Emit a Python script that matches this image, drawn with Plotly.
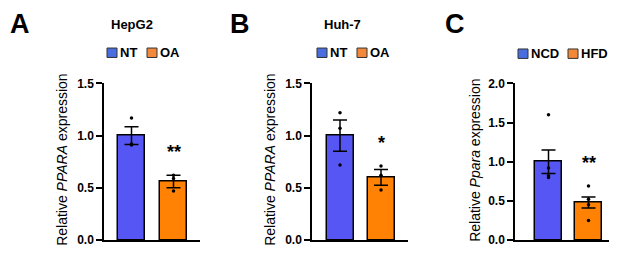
import plotly.graph_objects as go

# ---- data ----
panel_letters = ["A", "B", "C"]
panel_titles = ["HepG2", "Huh-7", ""]
groups = [["NT", "OA"], ["NT", "OA"], ["NCD", "HFD"]]
means = [[1.00, 0.56], [1.00, 0.60], [1.00, 0.48]]
sems = [[0.085, 0.06], [0.15, 0.075], [0.15, 0.07]]
points = [
    [[1.17, 0.92, 0.91], [0.62, 0.59, 0.47]],
    [[1.22, 1.07, 0.72], [0.71, 0.62, 0.48]],
    [[1.60, 0.92, 0.82, 0.80], [0.69, 0.52, 0.45, 0.25]],
]
stars = ["**", "*", "**"]
star_y = [0.84, 0.93, 0.99]
ytitles = ["Relative <i>PPARA</i> expression", "Relative <i>PPARA</i> expression",
           "Relative <i>Ppara</i> expression"]
ymax = [1.5, 1.5, 2.0]
tickvals = [[0, 0.5, 1.0, 1.5], [0, 0.5, 1.0, 1.5], [0, 0.5, 1.0, 1.5, 2.0]]
ticktext = [["0.0", "0.5", "1.0", "1.5"], ["0.0", "0.5", "1.0", "1.5"],
            ["0.0", "0.5", "1.0", "1.5", "2.0"]]

colors = ["#5656f5", "#ff8205"]
legend_colors = ["#4a6ee0", "#f4883a"]
FONT = "Liberation Sans, Arial, sans-serif"

# ---- geometry (screen pixels; page body has an 8px margin) ----
OFF = 8
W, H = 609, 249
def PX(p):
    return (p - OFF) / W
def PY(p):
    return 1 - (p - OFF) / H

axis_left = [104, 312, 515]
axis_right = [200, 408, 617]
bar_centers = [[131.5, 173.5], [340, 381], [548.5, 588.5]]
bar_w_px = 27
y_top_px, y_zero_px = 80.5, 246.5
title_x = [132, 342, None]
letter_x = [8, 228, 443]
ytitle_x = [62, 270, 475]
legend_sq = [[107, 147], [317, 357], [518, 568]]
legend_y = [48, 48, 49]

fig = go.Figure()
shapes, annotations = [], []
ydom = [PY(y_zero_px), PY(y_top_px)]

for i in range(3):
    xa = "x" if i == 0 else f"x{i+1}"
    ya = "y" if i == 0 else f"y{i+1}"
    c0, c1 = bar_centers[i]
    unit = c1 - c0
    xr = [-(c0 - axis_left[i]) / unit, 1 + (axis_right[i] - c1) / unit]
    for j in range(2):
        fig.add_trace(go.Bar(
            x=[j], y=[means[i][j]], width=bar_w_px / unit,
            marker=dict(color=colors[j], line=dict(color="black", width=1.5)),
            error_y=dict(type="data", array=[sems[i][j]], color="black",
                         thickness=1.5, width=7),
            xaxis=xa, yaxis=ya, showlegend=False))
        fig.add_trace(go.Scatter(
            x=[j] * len(points[i][j]), y=points[i][j], mode="markers",
            marker=dict(color="black", size=3.5), xaxis=xa, yaxis=ya,
            showlegend=False))
    annotations.append(dict(x=1, y=star_y[i], xref=xa, yref=ya, text=f"<b>{stars[i]}</b>",
                            showarrow=False, yanchor="middle",
                            font=dict(family=FONT, size=18, color="black")))
    axkey = "xaxis" if i == 0 else f"xaxis{i+1}"
    aykey = "yaxis" if i == 0 else f"yaxis{i+1}"
    fig.layout[axkey] = dict(domain=[PX(axis_left[i]), min(1.0, PX(axis_right[i]))], range=xr,
                             showline=True, linecolor="black", linewidth=1.5,
                             showticklabels=False, ticks="", showgrid=False,
                             zeroline=False, anchor=ya, fixedrange=True)
    fig.layout[aykey] = dict(domain=ydom, range=[0, ymax[i]], anchor=xa,
                             showline=True, linecolor="black", linewidth=1.5,
                             ticks="outside", ticklen=6, tickwidth=1.5, tickcolor="black",
                             tickvals=tickvals[i],
                             ticktext=[f"<b>{t}</b>" for t in ticktext[i]],
                             tickfont=dict(family=FONT, size=12, color="black"),
                             showgrid=False, zeroline=False)
    annotations.append(dict(x=PX(ytitle_x[i]), y=PY((y_top_px + y_zero_px) / 2 - 2),
                            xref="paper", yref="paper", text=ytitles[i], textangle=-90,
                            showarrow=False, xanchor="center", yanchor="middle",
                            font=dict(family=FONT, size=14, color="black")))
    annotations.append(dict(x=PX(letter_x[i]), y=PY(18), xref="paper", yref="paper",
                            text=f"<b>{panel_letters[i]}</b>", showarrow=False,
                            xanchor="left", yanchor="middle",
                            font=dict(family=FONT, size=27, color="black")))
    if panel_titles[i]:
        annotations.append(dict(x=PX(title_x[i]), y=PY(18), xref="paper", yref="paper",
                                text=f"<b>{panel_titles[i]}</b>", showarrow=False,
                                xanchor="center", yanchor="middle",
                                font=dict(family=FONT, size=13, color="black")))
    ly = legend_y[i]
    for j in range(2):
        lx = legend_sq[i][j]
        shapes.append(dict(type="rect", xref="paper", yref="paper",
                           x0=PX(lx), x1=PX(lx + 10), y0=PY(ly + 5), y1=PY(ly - 5),
                           fillcolor=legend_colors[j], line=dict(color="#333", width=1)))
        annotations.append(dict(x=PX(lx + 11), y=PY(ly), xref="paper", yref="paper",
                                text=f"<b>{groups[i][j]}</b>", showarrow=False,
                                xanchor="left", yanchor="middle",
                                font=dict(family=FONT, size=13, color="black")))

fig.update_layout(width=W, height=H, margin=dict(l=0, r=0, t=0, b=0),
                  plot_bgcolor="white", paper_bgcolor="white",
                  shapes=shapes, annotations=annotations, bargap=0)
fig.write_html("out.html")
